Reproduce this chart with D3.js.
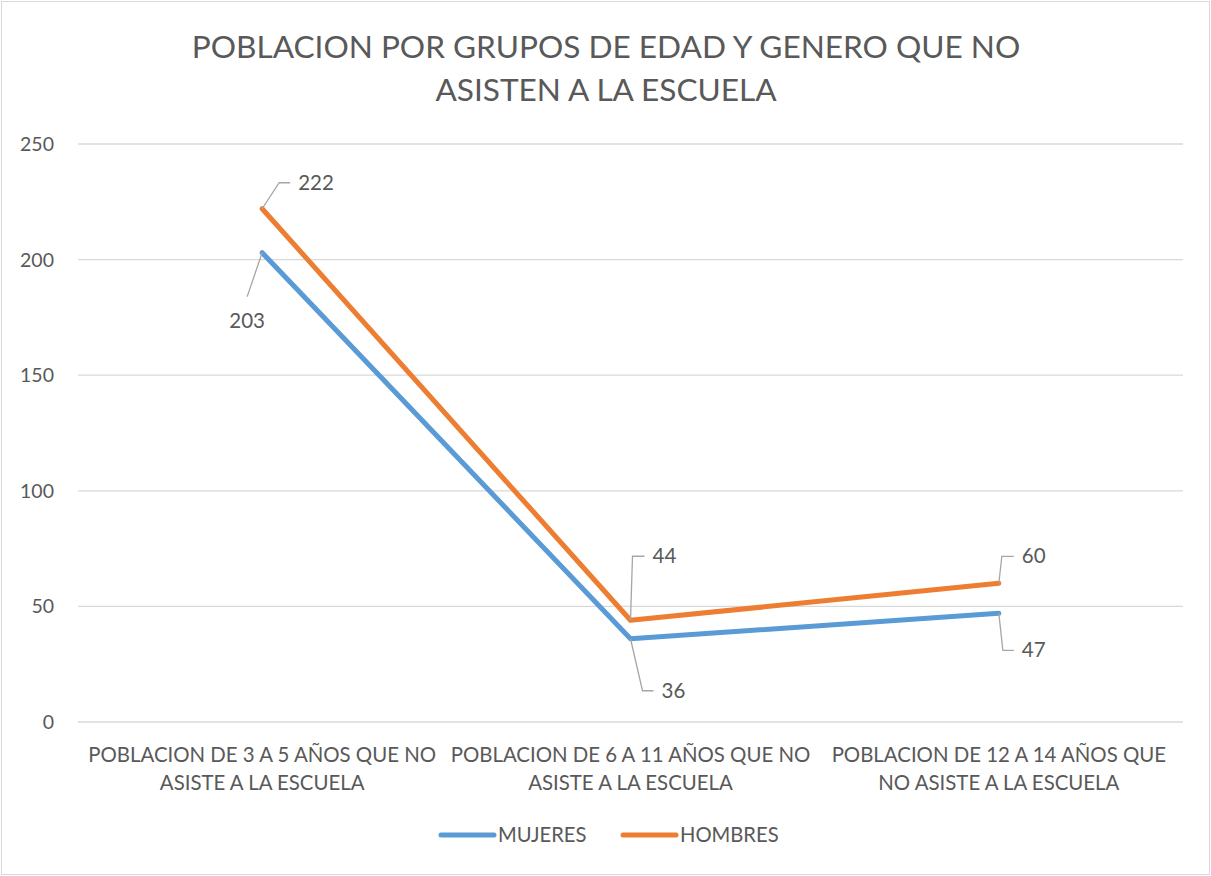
<!DOCTYPE html>
<html>
<head>
<meta charset="utf-8">
<script src="https://cdn.jsdelivr.net/npm/d3@7"></script>
<style>
  body { margin: 0; background: #fff; }
  text { font-family: Lato, "Open Sans", sans-serif; fill: #595959; }
</style>
</head>
<body>
<div id="chart"></div>
<script>
const categories = [
  ['POBLACION DE 3 A 5 AÑOS QUE NO', 'ASISTE A LA ESCUELA'],
  ['POBLACION DE 6 A 11 AÑOS QUE NO', 'ASISTE A LA ESCUELA'],
  ['POBLACION DE 12 A 14 AÑOS QUE', 'NO ASISTE A LA ESCUELA']
];
const mujeres = [203, 36, 47];
const hombres = [222, 44, 60];
const yTicks = [0, 50, 100, 150, 200, 250];
const titleLines = ['POBLACION POR GRUPOS DE EDAD Y GENERO QUE NO', 'ASISTEN A LA ESCUELA'];

const series = [
  { name: 'MUJERES', values: mujeres, color: '#5B9BD5' },
  { name: 'HOMBRES', values: hombres, color: '#ED7D31' }
];

// label leader-line offsets (style only): [elbow dx, elbow dy, end dx, mode]
const labelPos = {
  MUJERES: [[-15, 44, -15, 'below'], [12, 52, 23, 'side'], [4, 37, 15, 'side']],
  HOMBRES: [[17, -26, 28, 'side'], [2, -64, 14, 'side'], [3, -27, 15, 'side']]
};

function drawChart() {
  const width = 1211, height = 876;
  const margin = { left: 78, right: 28, top: 144, bottom: 154 };

  const svg = d3.select('#chart').append('svg')
    .attr('width', width)
    .attr('height', height);

  svg.append('rect')
    .attr('x', 1.5).attr('y', 1.5)
    .attr('width', width - 3).attr('height', height - 3)
    .attr('fill', '#fff')
    .attr('stroke', '#D9D9D9');

  const x = d3.scaleBand()
    .domain(d3.range(categories.length))
    .range([margin.left, width - margin.right]);

  const y = d3.scaleLinear()
    .domain([0, 250])
    .range([height - margin.bottom, margin.top]);

  // title
  svg.append('g').selectAll('text')
    .data(titleLines)
    .enter().append('text')
    .attr('x', 606)
    .attr('y', (d, i) => 58 + i * 43)
    .attr('text-anchor', 'middle')
    .style('font-size', '31.6px')
    .text(d => d);

  // grid + y labels
  const yAxis = svg.append('g');
  yAxis.selectAll('line')
    .data(yTicks)
    .enter().append('line')
    .attr('x1', margin.left).attr('x2', width - margin.right)
    .attr('y1', d => y(d)).attr('y2', d => y(d))
    .attr('stroke', '#D9D9D9')
    .attr('stroke-width', 1.3);
  yAxis.selectAll('text')
    .data(yTicks)
    .enter().append('text')
    .attr('x', 54)
    .attr('y', d => y(d) + 7)
    .attr('text-anchor', 'end')
    .style('font-size', '19.5px')
    .text(d => d);

  // category labels
  const xc = i => x(i) + x.bandwidth() / 2;
  const catG = svg.append('g').selectAll('g')
    .data(categories)
    .enter().append('g');
  catG.selectAll('text')
    .data((d, i) => d.map(t => ({ t, i })))
    .enter().append('text')
    .attr('x', d => xc(d.i))
    .attr('y', (d, j) => 762 + j * 28)
    .attr('text-anchor', 'middle')
    .style('font-size', '20.4px')
    .text(d => d.t);

  const line = d3.line()
    .x((d, i) => xc(i))
    .y(d => y(d));

  series.forEach(s => {
    svg.append('path')
      .datum(s.values)
      .attr('fill', 'none')
      .attr('stroke', s.color)
      .attr('stroke-width', 5)
      .attr('stroke-linejoin', 'round')
      .attr('stroke-linecap', 'round')
      .attr('d', line);
  });

  // data labels with leader lines
  series.forEach(s => {
    s.values.forEach((v, i) => {
      const px = xc(i), py = y(v);
      const [ex, ey, hx, mode] = labelPos[s.name][i];
      const pts = [[px, py], [px + ex, py + ey], [px + hx, py + ey]];
      svg.append('path')
        .attr('d', d3.line()(pts))
        .attr('fill', 'none')
        .attr('stroke', '#A6A6A6')
        .attr('stroke-width', 1.3);
      const t = svg.append('text')
        .style('font-size', '20.5px')
        .text(v);
      if (mode === 'below') {
        t.attr('x', px + ex)
          .attr('y', py + ey + 31)
          .attr('text-anchor', 'middle');
      } else {
        t.attr('x', px + hx + 8)
          .attr('y', py + ey + 7)
          .attr('text-anchor', 'start');
      }
    });
  });

  // legend
  const legend = svg.append('g');
  const legendX = [441, 623];
  series.forEach((s, i) => {
    legend.append('line')
      .attr('x1', legendX[i]).attr('x2', legendX[i] + 53)
      .attr('y1', 835).attr('y2', 835)
      .attr('stroke', s.color)
      .attr('stroke-width', 5)
      .attr('stroke-linecap', 'round');
    legend.append('text')
      .attr('x', legendX[i] + 57)
      .attr('y', 842)
      .style('font-size', '20.2px')
      .text(s.name);
  });
}

window.onload = function () {
  drawChart();
};
</script>
</body>
</html>
